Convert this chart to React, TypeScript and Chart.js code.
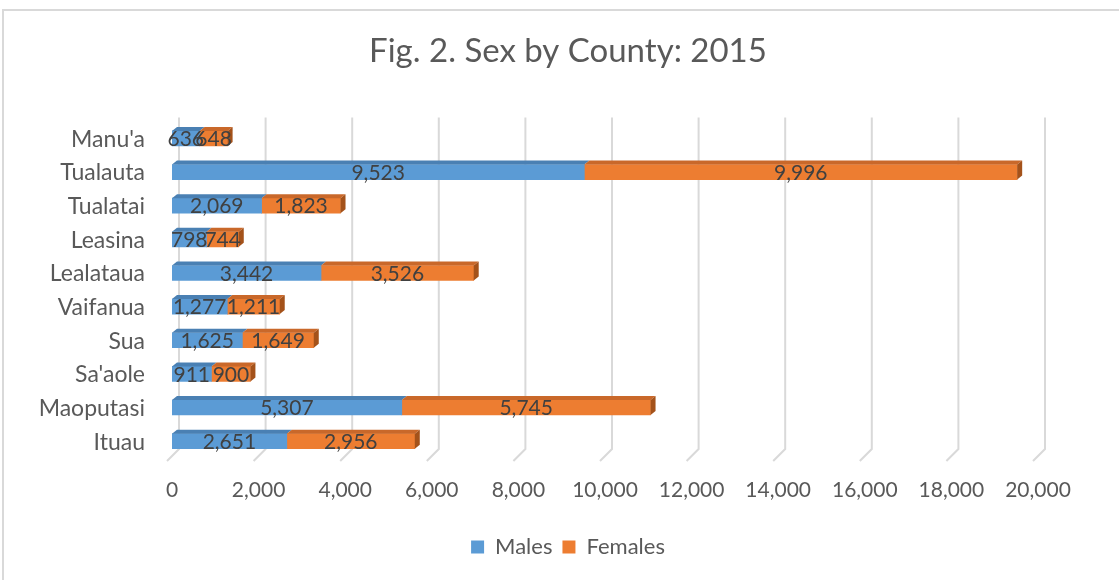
import React, { useEffect, useRef } from "react";
import { Chart, registerables } from "chart.js";

Chart.register(...registerables);

const categories = ["Manu'a", "Tualauta", "Tualatai", "Leasina", "Lealataua", "Vaifanua", "Sua", "Sa'aole", "Maoputasi", "Ituau"];
const males = [636, 9523, 2069, 798, 3442, 1277, 1625, 911, 5307, 2651];
const females = [648, 9996, 1823, 744, 3526, 1211, 1649, 900, 5745, 2956];
const xTicks = [0, 2000, 4000, 6000, 8000, 10000, 12000, 14000, 16000, 18000, 20000];
const titleText = "Fig. 2. Sex by County: 2015";

const FONT = "Lato, 'Open Sans', sans-serif";
const fmt = (v: number) => v.toLocaleString("en-US");

const topColors = ["#4a80b3", "#c9682a"];
const sideColors = ["#3f6f9c", "#a4521a"];

const gridPlugin = {
  id: "grid3d",
  beforeDatasetsDraw(chart: any) {
    const { ctx, chartArea } = chart;
    const xs = chart.scales.x;
    ctx.save();
    ctx.strokeStyle = "#d9d9d9";
    ctx.lineWidth = 2;
    xTicks.forEach((v) => {
      const x = xs.getPixelForValue(v);
      ctx.beginPath();
      ctx.moveTo(x + 7, chartArea.top - 4);
      ctx.lineTo(x + 7, chartArea.bottom - 9);
      ctx.lineTo(x - 5, chartArea.bottom + 3);
      ctx.stroke();
    });
    ctx.restore();
  },
};

// Category labels of the y axis (drawn here so they are not clipped to the narrow axis box)
const categoryLabelPlugin = {
  id: "categoryLabels",
  afterDraw(chart: any) {
    const { ctx, chartArea } = chart;
    const ys = chart.scales.y;
    ctx.save();
    ctx.font = `23px ${FONT}`;
    ctx.fillStyle = "#595959";
    ctx.textAlign = "right";
    ctx.textBaseline = "middle";
    chart.data.labels.forEach((lab: string, i: number) => {
      ctx.fillText(lab, chartArea.left - 27, ys.getPixelForValue(i) + 1);
    });
    ctx.restore();
  },
};

const bar3dPlugin = {
  id: "bar3d",
  afterDatasetsDraw(chart: any) {
    const { ctx } = chart;
    const dx = 5;
    const dy = 4;
    const n = chart.data.datasets.length;
    ctx.save();
    for (let d = 0; d < n; d++) {
      const meta = chart.getDatasetMeta(d);
      meta.data.forEach((el: any) => {
        const { x, y, base, height } = el.getProps(["x", "y", "base", "height"], true);
        const top = y - height / 2;
        const bottom = y + height / 2;
        ctx.fillStyle = topColors[d];
        ctx.beginPath();
        ctx.moveTo(base, top);
        ctx.lineTo(base + dx, top - dy);
        ctx.lineTo(x + dx, top - dy);
        ctx.lineTo(x, top);
        ctx.closePath();
        ctx.fill();
        if (d === n - 1) {
          ctx.fillStyle = sideColors[d];
          ctx.beginPath();
          ctx.moveTo(x, top);
          ctx.lineTo(x + dx, top - dy);
          ctx.lineTo(x + dx, bottom - dy);
          ctx.lineTo(x, bottom);
          ctx.closePath();
          ctx.fill();
        }
      });
    }
    ctx.restore();
  },
};

const labelPlugin = {
  id: "dataLabels",
  afterDatasetsDraw(chart: any) {
    const { ctx } = chart;
    ctx.save();
    ctx.font = `21px ${FONT}`;
    ctx.fillStyle = "#404040";
    ctx.textAlign = "center";
    ctx.textBaseline = "middle";
    chart.data.datasets.forEach((ds: any, d: number) => {
      const meta = chart.getDatasetMeta(d);
      meta.data.forEach((el: any, i: number) => {
        const { x, y, base } = el.getProps(["x", "y", "base"], true);
        ctx.fillText(fmt(ds.data[i]), (x + base) / 2, y + 1);
      });
    });
    ctx.restore();
  },
};

export default function App() {
  const ref = useRef<HTMLCanvasElement | null>(null);
  useEffect(() => {
    if (!ref.current) return;
    Chart.defaults.font.family = FONT;
    const chart = new Chart(ref.current, {
      type: "bar",
      data: {
        labels: categories,
        datasets: [
          { label: "Males", data: males, backgroundColor: "#5b9bd5", borderWidth: 0, barThickness: 15 },
          { label: "Females", data: females, backgroundColor: "#ed7d31", borderWidth: 0, barThickness: 15 },
        ],
      },
      options: {
        indexAxis: "y",
        responsive: false,
        animation: false,
        layout: { padding: { left: 98, right: 81, top: 0, bottom: 12 } },
        scales: {
          x: {
            stacked: true,
            min: 0,
            max: 20000,
            grid: { display: false, drawTicks: false },
            border: { display: false },
            ticks: {
              stepSize: 2000,
              padding: 20,
              color: "#595959",
              font: { size: 21, family: FONT },
              callback: (v: any) => fmt(Number(v)),
            },
            afterFit: (s: any) => {
              s.height = 68;
            },
          },
          y: {
            stacked: true,
            grid: { display: false, drawTicks: false },
            border: { display: false },
            ticks: { display: false },
            afterFit: (s: any) => {
              s.width = 74;
            },
          },
        },
        plugins: {
          title: {
            display: true,
            text: titleText,
            color: "#595959",
            font: { size: 33, weight: "normal", family: FONT },
            padding: { top: 32, bottom: 50 },
          },
          legend: {
            position: "bottom",
            labels: {
              color: "#595959",
              font: { size: 22, family: FONT },
              boxWidth: 13,
              boxHeight: 13,
              padding: 10,
            },
          },
          tooltip: { enabled: false },
        },
      },
      plugins: [gridPlugin, bar3dPlugin, labelPlugin, categoryLabelPlugin],
    } as any);
    return () => chart.destroy();
  }, []);
  return (
    <div style={{ position: "fixed", left: 0, top: 0, width: 1119, height: 580, background: "#fff", overflow: "hidden" }}>
      <div
        style={{
          position: "absolute",
          left: 2,
          top: 9,
          width: 1200,
          height: 700,
          border: "2px solid #d9d9d9",
        }}
      />
      <canvas ref={ref} width={1119} height={580} style={{ position: "absolute", left: 0, top: 0, display: "block" }} />
    </div>
  );
}
